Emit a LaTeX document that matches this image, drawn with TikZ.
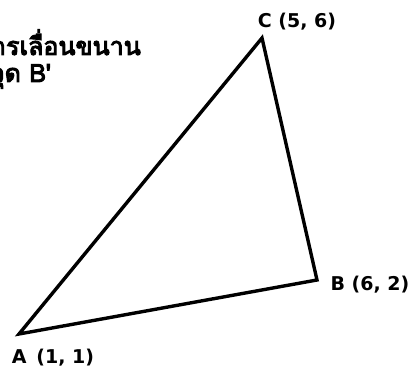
\documentclass[tikz,border=0pt]{standalone}
\usepackage{fontspec}
\setmainfont{DejaVu Sans}
\newfontfamily\thaifont[Script=Thai,AutoFakeBold=4]{Loma}
\usepackage{tikz}

\begin{document}
\begin{tikzpicture}[x=1pt,y=1pt]

% Stili
\tikzset{
  vlabel/.style={font=\fontsize{19}{22}\selectfont\bfseries, inner sep=0pt},
  thaitext/.style={font=\fontsize{25}{28}\selectfont\thaifont\bfseries, inner sep=0pt, anchor=base east},
  lato/.style={line width=3.4pt, line join=miter}
}

% Area del disegno
\useasboundingbox (0,0) rectangle (415,371);
\clip (0,0) rectangle (415,371);

% Titolo (tagliato a sinistra come nell'originale)
\node[thaitext] (riga1) at (141,316) {การเลื่อนขนาน};
\node[thaitext] (riga2) at (51,289) {จุด B'};

% Vertici
\coordinate (A) at (19,37);
\coordinate (B) at (317,91);
\coordinate (C) at (262,333);

% Triangolo
\draw[lato] (A) -- (B) -- (C) -- cycle;

% Etichette
\node[vlabel] (labA) at (53,13) {A\, (1, 1)};
\node[vlabel] (labB) at (370,86) {B (6, 2)};
\node[vlabel] (labC) at (297,349) {C (5, 6)};

\end{tikzpicture}
\end{document}
